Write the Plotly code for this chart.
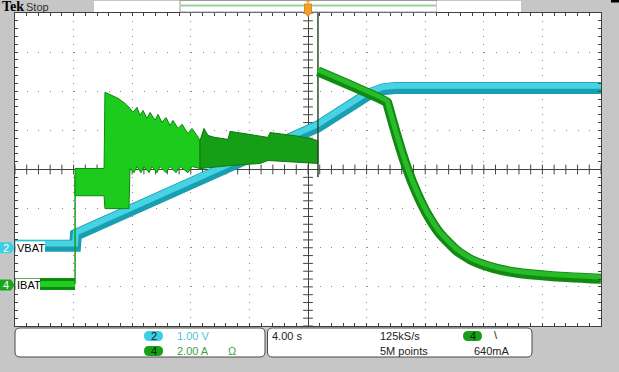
import plotly.graph_objects as go

W, H = 619, 372
PX_L, PX_R, PX_T, PX_B = 15, 601, 13, 326

# ---- scope settings (from the status bar) ----
T_PER_DIV = 4.0        # s/div
CH2_V_PER_DIV = 1.00   # V/div
CH4_A_PER_DIV = 2.00   # A/div
CH2_POS = -2.0         # div (VBAT ground marker)
CH4_POS = -2.95        # div (IBAT ground marker)

# ---- CH2 VBAT (V) ----
vbat_t = [-20.0, -15.90, -15.84, 0.68, 4.03, 5.12, 5.94, 20.0]
vbat_v = [0.05, 0.05, 0.33, 3.10, 3.90, 4.05, 4.08, 4.08]

# ---- CH4 IBAT (A) ----
ibat_pre_t = [-20.0, -15.90]
ibat_pre_a = [0.05, 0.05]
ibat_step_t = [-15.90, -15.90]
ibat_step_a = [0.05, 5.6]

# envelope of the noisy charge burst
burst_up_t = [-15.90, -13.92, -13.86, -13.52, -12.97, -12.49, -12.15, -11.95, -11.67, -11.47,
              -11.26, -10.99, -10.78, -10.44, -10.24, -9.97, -9.69, -9.42, -9.22, -8.87,
              -8.60, -8.19, -7.92, -7.58, -7.37, -7.10, -6.83, -6.35, -5.46, -5.32,
              -3.96, -2.73, -2.59, -0.55, 0.68]
burst_up_a = [5.95, 5.95, 9.85, 9.74, 9.54, 9.28, 9.03, 8.82, 9.08, 8.67,
              8.92, 8.51, 8.82, 8.41, 8.72, 8.31, 8.56, 8.15, 8.41, 8.00,
              8.21, 7.74, 8.00, 7.64, 7.38, 8.00, 7.64, 7.54, 7.44, 7.85,
              7.69, 7.54, 7.79, 7.59, 7.38]
burst_lo_t = [-15.90, -13.92, -13.86, -12.22, -12.15, -11.88, -11.67, -11.40, -11.19, -10.85,
              -10.65, -10.31, -10.10, -9.69, -9.42, -9.01, -8.74, -8.19, -7.92, -7.37,
              -5.32, -3.28, -2.73, 0.68]
burst_lo_a = [4.56, 4.56, 3.90, 3.90, 5.95, 5.74, 6.05, 5.74, 6.05, 5.74,
              6.05, 5.74, 6.05, 5.74, 6.05, 5.74, 6.05, 5.74, 6.05, 5.95,
              6.10, 6.21, 6.36, 6.21]

ibat_edge_t = [0.68, 0.68]
ibat_edge_a = [13.9, 5.5]

ibat_post_t = [0.68, 5.39, 5.46, 6.08, 6.76, 7.44, 8.12, 9.01, 10.17, 11.26, 12.63, 14.27, 16.52, 20.0]
ibat_post_a = [10.92, 9.33, 9.18, 7.54, 5.95, 4.67, 3.64, 2.62, 1.74, 1.23, 0.87, 0.62, 0.46, 0.31]

# ---- status bar texts ----
ch2_scale_txt = "1.00 V"
ch4_scale_txt = "2.00 A"
timebase_txt = "4.00 s"
rate_txt = "125kS/s"
points_txt = "5M points"
trig_level_txt = "640mA"


def v2div(v):
    return [x / CH2_V_PER_DIV + CH2_POS for x in v]


def a2div(a):
    return [x / CH4_A_PER_DIV + CH4_POS for x in a]


def X(x):
    return x / W


def Y(y):
    return 1 - y / H


def rr_path(x0, y0, x1, y1, r):
    return (f"M {X(x0+r)},{Y(y0)} L {X(x1-r)},{Y(y0)} Q {X(x1)},{Y(y0)} {X(x1)},{Y(y0+r)} "
            f"L {X(x1)},{Y(y1-r)} Q {X(x1)},{Y(y1)} {X(x1-r)},{Y(y1)} "
            f"L {X(x0+r)},{Y(y1)} Q {X(x0)},{Y(y1)} {X(x0)},{Y(y1-r)} "
            f"L {X(x0)},{Y(y0+r)} Q {X(x0)},{Y(y0)} {X(x0+r)},{Y(y0)} Z")


fig = go.Figure()

# graticule ticks on the centre cross
tx = [-20 + i * T_PER_DIV / 5 for i in range(51)]
ty = [-4 + i * 0.2 for i in range(41)]
fig.add_trace(go.Scatter(x=tx, y=[0] * len(tx), mode="markers", hoverinfo="skip",
                         marker=dict(symbol="line-ns", size=7, line=dict(color="#444444", width=1))))
fig.add_trace(go.Scatter(x=[0] * len(ty), y=ty, mode="markers", hoverinfo="skip",
                         marker=dict(symbol="line-ew", size=7, line=dict(color="#444444", width=1))))

# VBAT
vy = v2div(vbat_v)
fig.add_trace(go.Scatter(x=vbat_t, y=vy, mode="lines", line=dict(color="#1a9fb2", width=12)))
fig.add_trace(go.Scatter(x=vbat_t, y=[v + 0.06 for v in vy], mode="lines",
                         line=dict(color="#46d4e4", width=6)))

# IBAT before the step
fig.add_trace(go.Scatter(x=ibat_pre_t, y=a2div(ibat_pre_a), mode="lines", line=dict(color="#0b8a0b", width=12)))
fig.add_trace(go.Scatter(x=ibat_pre_t, y=a2div(ibat_pre_a), mode="lines", line=dict(color="#22cc22", width=6)))
fig.add_trace(go.Scatter(x=ibat_step_t, y=a2div(ibat_step_a), mode="lines", line=dict(color="#1a9a1a", width=1.5)))

# burst envelope, split into bright part and darker part
def poly(cond):
    ut = [t for t in burst_up_t if cond(t)]
    ua = [a for t, a in zip(burst_up_t, burst_up_a) if cond(t)]
    lt = [t for t in burst_lo_t if cond(t)]
    la = [a for t, a in zip(burst_lo_t, burst_lo_a) if cond(t)]
    pt = ut + lt[::-1] + ut[:1]
    pa = ua + la[::-1] + ua[:1]
    return pt, a2div(pa)

pt, pa = poly(lambda t: t <= -7.37)
fig.add_trace(go.Scatter(x=pt, y=pa, mode="lines", fill="toself", fillcolor="#1ccb1c",
                         line=dict(color="#0d8a0d", width=1)))
pt, pa = poly(lambda t: t >= -7.37)
fig.add_trace(go.Scatter(x=pt, y=pa, mode="lines", fill="toself", fillcolor="#169e16",
                         line=dict(color="#0b7a0b", width=1)))

# IBAT after trigger
fig.add_trace(go.Scatter(x=ibat_edge_t, y=a2div(ibat_edge_a), mode="lines", line=dict(color="#2c4a2c", width=1.5)))
fig.add_trace(go.Scatter(x=ibat_post_t, y=a2div(ibat_post_a), mode="lines", line_shape="spline",
                         line=dict(color="#118a11", width=10, smoothing=0.5)))
fig.add_trace(go.Scatter(x=ibat_post_t, y=[a + 0.04 for a in a2div(ibat_post_a)], mode="lines",
                         line_shape="spline", line=dict(color="#2abb2a", width=5, smoothing=0.5)))

axis_common = dict(showticklabels=False, showline=True, linecolor="#404040", linewidth=1,
                   mirror="ticks", ticks="inside", ticklen=3, tickcolor="#404040",
                   zeroline=True, zerolinecolor="#404040", zerolinewidth=1,
                   showgrid=True, gridcolor="#8a8a8a", gridwidth=1, fixedrange=True)

fig.update_xaxes(range=[-20, 20], dtick=T_PER_DIV, tick0=0, domain=[X(PX_L), X(PX_R)],
                 griddash="1px,6.8px",
                 minor=dict(dtick=T_PER_DIV / 5, ticks="inside", ticklen=3, tickcolor="#404040", showgrid=False),
                 **axis_common)
fig.update_yaxes(range=[-4, 4], dtick=1, tick0=0, domain=[Y(PX_B), Y(PX_T)],
                 griddash="1px,10.72px",
                 minor=dict(dtick=0.2, ticks="inside", ticklen=3, tickcolor="#404040", showgrid=False),
                 **axis_common)

shapes = []
ann = []
FONT = "Liberation Sans"

# top bar
shapes.append(dict(type="rect", xref="paper", yref="paper", x0=X(94), x1=X(180), y0=Y(12), y1=Y(1),
                   fillcolor="white", line=dict(width=0)))
shapes.append(dict(type="rect", xref="paper", yref="paper", x0=X(180), x1=X(437), y0=Y(12), y1=Y(0.5),
                   fillcolor="white", line=dict(color="#9a9a9a", width=1)))
shapes.append(dict(type="line", xref="paper", yref="paper", x0=X(181), x1=X(436), y0=Y(5.5), y1=Y(5.5),
                   line=dict(color="#9ccf9c", width=2)))
shapes.append(dict(type="rect", xref="paper", yref="paper", x0=X(437), x1=X(521), y0=Y(12), y1=Y(1),
                   fillcolor="white", line=dict(width=0)))
shapes.append(dict(type="rect", xref="paper", yref="paper", x0=X(611), x1=X(619), y0=Y(2.5), y1=Y(0),
                   fillcolor="black", line=dict(width=0)))
# trigger position marker
shapes.append(dict(type="path", xref="paper", yref="paper",
                   path=f"M {X(304.5)},{Y(4)} L {X(311.5)},{Y(4)} L {X(311.5)},{Y(12)} L {X(308)},{Y(16.5)} L {X(304.5)},{Y(12)} Z",
                   fillcolor="#f2a22a", line=dict(color="#e08a10", width=1)))
shapes.append(dict(type="path", xref="paper", yref="paper",
                   path=f"M {X(305.5)},{Y(1)} L {X(310.5)},{Y(1)} M {X(308)},{Y(1)} L {X(308)},{Y(4)}",
                   line=dict(color="#e08a10", width=1)))

ann.append(dict(text="<b>Tek</b>", x=X(0), y=Y(7), xanchor="left", yanchor="middle",
                font=dict(family="Liberation Serif", size=14, color="black")))
ann.append(dict(text="Stop", x=X(24), y=Y(7), xanchor="left", yanchor="middle",
                font=dict(family=FONT, size=11, color="#333333")))

# channel ground markers on the left
for pos, col, num, label, lw in [(CH2_POS, "#3ccfdf", "2", "VBAT", 30), (CH4_POS, "#1aa51a", "4", "IBAT", 25)]:
    shapes.append(dict(type="path", xref="paper", yref="y",
                       path=f"M {X(0)},{pos+0.14} L {X(11)},{pos+0.14} L {X(14.5)},{pos} L {X(11)},{pos-0.14} L {X(0)},{pos-0.14} Z",
                       fillcolor=col, line=dict(width=0)))
    ann.append(dict(text=num, x=X(6), y=pos, xref="paper", yref="y", xanchor="center", yanchor="middle",
                    font=dict(family=FONT, size=11, color="white")))
    shapes.append(dict(type="rect", xref="paper", yref="y", x0=X(15.5), x1=X(15 + lw), y0=pos - 0.16, y1=pos + 0.16,
                       fillcolor="white", line=dict(width=0)))
    ann.append(dict(text=label, x=X(15.5), y=pos, xref="paper", yref="y", xanchor="left", yanchor="middle",
                    font=dict(family=FONT, size=11, color="black"), borderpad=0))

# bottom status boxes
shapes.append(dict(type="path", xref="paper", yref="paper", path=rr_path(15, 328, 265, 357, 5),
                   fillcolor="white", line=dict(color="#4a4a4a", width=1)))
shapes.append(dict(type="path", xref="paper", yref="paper", path=rr_path(267.5, 328, 532, 357, 5),
                   fillcolor="white", line=dict(color="#4a4a4a", width=1)))
for x0, y0, col in [(144, 331, "#3ccfdf"), (144, 346, "#16a016"), (463, 331, "#16a016")]:
    shapes.append(dict(type="path", xref="paper", yref="paper", path=rr_path(x0, y0, x0 + 19, y0 + 10, 5),
                       fillcolor=col, line=dict(width=0)))

def txt(s, x, y, col="#222222", anchor="left", size=11):
    ann.append(dict(text=s, x=X(x), y=Y(y), xanchor=anchor, yanchor="middle",
                    font=dict(family=FONT, size=size, color=col)))

txt("2", 153.5, 336, "#102030", "center")
txt("4", 153.5, 351, "#102010", "center")
txt(ch2_scale_txt, 175, 336, "#4ec4d4")
txt(ch4_scale_txt, 175, 351, "#3f9f3f")
txt("Ω", 226, 351, "#3f9f3f")
txt(timebase_txt, 270, 336)
txt(rate_txt, 378, 336)
txt(points_txt, 378, 351)
txt("4", 472.5, 336, "#102010", "center")
txt("\\", 492, 335)
txt(trig_level_txt, 472, 351)

for a in ann:
    a.setdefault("xref", "paper")
    a.setdefault("yref", "paper")
    a.setdefault("showarrow", False)

fig.update_layout(width=W, height=H, margin=dict(l=0, r=0, t=0, b=0),
                  paper_bgcolor="#c6c6c6", plot_bgcolor="white", showlegend=False,
                  shapes=shapes, annotations=ann, hovermode=False)

fig.write_html("out.html", config={"displayModeBar": False})
